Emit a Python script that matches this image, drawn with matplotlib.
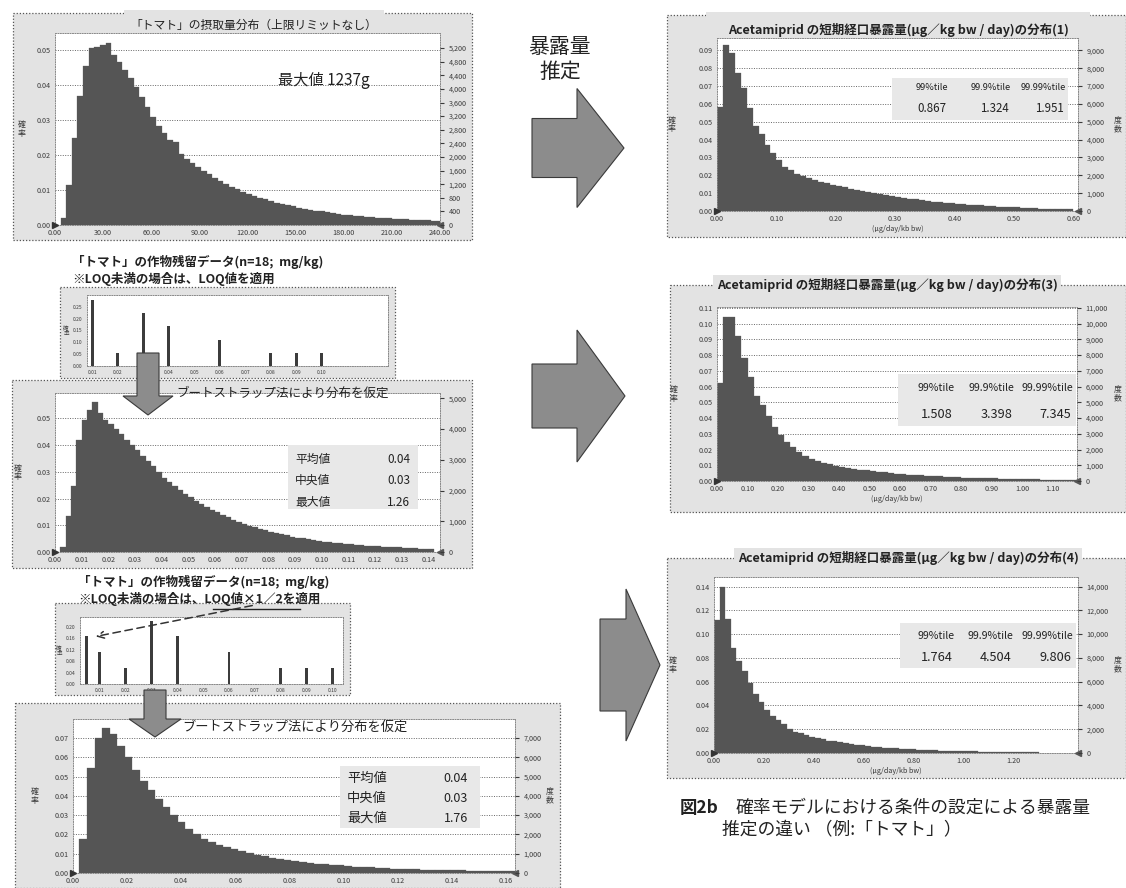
import numpy as np
import matplotlib
matplotlib.use("Agg")
import matplotlib.pyplot as plt
from matplotlib.patches import Polygon, Rectangle

plt.rcParams['font.family'] = ['Noto Sans CJK JP', 'DejaVu Sans']

# ---------------- data ----------------
# (A) tomato intake distribution (g), probability per bin
intake_start, intake_width = 3.5, 3.5
intake_prob = [0.002, 0.0114, 0.0248, 0.0369, 0.0456, 0.0505, 0.0508, 0.0515, 0.0520, 0.0486,
               0.0467, 0.0443, 0.0420, 0.0395, 0.0367, 0.0338, 0.0310, 0.0283, 0.0264, 0.0243,
               0.0238, 0.0203, 0.0190, 0.0178, 0.0166, 0.0155, 0.0145, 0.0135, 0.0126, 0.0118,
               0.0110, 0.0102, 0.0095, 0.0089, 0.0083, 0.0078, 0.0073, 0.0068, 0.0064, 0.0060,
               0.0056, 0.0053, 0.0050, 0.0047, 0.0044, 0.0041, 0.0039, 0.0036, 0.0034, 0.0032,
               0.0030, 0.0028, 0.0027, 0.0025, 0.0024, 0.0022, 0.0021, 0.0020, 0.0019, 0.0018,
               0.0017, 0.0016, 0.0015, 0.0014, 0.0014, 0.0013, 0.0012, 0.0012]
intake_xticks = [0, 30, 60, 90, 120, 150, 180, 210, 240]
intake_yticks = [0, 0.01, 0.02, 0.03, 0.04, 0.05]
intake_rticks = [0, 400, 800, 1200, 1600, 2000, 2400, 2800, 3200, 3600, 4000, 4400, 4800, 5200]

# (B) residue data, LOQ applied (n=18)
res1_conc = [0.01, 0.02, 0.03, 0.04, 0.06, 0.08, 0.09, 0.10]
res1_prob = [0.278, 0.056, 0.222, 0.167, 0.111, 0.056, 0.056, 0.056]
res1_yticks = [0.00, 0.05, 0.10, 0.15, 0.20, 0.25]

# (C) bootstrap residue distribution 1
boot1_start, boot1_width = 0.002, 0.002
boot1_prob = [0.002, 0.0134, 0.0246, 0.042, 0.0494, 0.053, 0.056, 0.052, 0.0494, 0.048,
              0.046, 0.044, 0.042, 0.040, 0.038, 0.036, 0.034, 0.032, 0.030, 0.0278,
              0.0262, 0.0247, 0.0232, 0.0218, 0.0205, 0.0192, 0.0180, 0.0169, 0.0158, 0.0148,
              0.0139, 0.0130, 0.0121, 0.0113, 0.0106, 0.0099, 0.0093, 0.0087, 0.0081, 0.0076,
              0.0071, 0.0066, 0.0062, 0.0058, 0.0054, 0.0051, 0.0048, 0.0045, 0.0042, 0.0039,
              0.0037, 0.0035, 0.0033, 0.0031, 0.0029, 0.0027, 0.0025, 0.0024, 0.0022, 0.0021,
              0.0020, 0.0019, 0.0018, 0.0017, 0.0016, 0.0015, 0.0014, 0.0013, 0.0013, 0.0012]
boot1_xticks = [0.00, 0.01, 0.02, 0.03, 0.04, 0.05, 0.06, 0.07, 0.08, 0.09, 0.10, 0.11, 0.12, 0.13, 0.14]
boot1_yticks = [0, 0.01, 0.02, 0.03, 0.04, 0.05]
boot1_rticks = [0, 1000, 2000, 3000, 4000, 5000]

# (D) residue data, LOQ x 1/2 applied (n=18)
res2_conc = [0.005, 0.01, 0.02, 0.03, 0.04, 0.06, 0.08, 0.09, 0.10]
res2_prob = [0.167, 0.111, 0.056, 0.222, 0.167, 0.111, 0.056, 0.056, 0.056]
res2_yticks = [0.00, 0.04, 0.08, 0.12, 0.16, 0.20]
res_xticks = [0.01, 0.02, 0.03, 0.04, 0.05, 0.06, 0.07, 0.08, 0.09, 0.10]

# (E) bootstrap residue distribution 2
boot2_start, boot2_width = 0.0024, 0.0028
boot2_prob = [0.0178, 0.0546, 0.070, 0.0753, 0.072, 0.066, 0.060, 0.0533, 0.0477, 0.043,
              0.0385, 0.0342, 0.0299, 0.0264, 0.023, 0.0204, 0.0178, 0.016, 0.0145, 0.0133,
              0.0122, 0.0112, 0.0103, 0.0095, 0.0087, 0.008, 0.0074, 0.0068, 0.0062, 0.0057,
              0.0053, 0.0049, 0.0045, 0.0042, 0.0039, 0.0036, 0.0033, 0.0031, 0.0029, 0.0027,
              0.0025, 0.0023, 0.0022, 0.002, 0.0019, 0.0018, 0.0017, 0.0016, 0.0015, 0.0014,
              0.0013, 0.0012, 0.0012, 0.0011, 0.001, 0.001, 0.0009, 0.0009, 0.0008, 0.0008,
              0.0007, 0.0007, 0.0007, 0.0006, 0.0006, 0.0006, 0.0005, 0.0005]
boot2_xticks = [0.00, 0.02, 0.04, 0.06, 0.08, 0.10, 0.12, 0.14, 0.16]
boot2_yticks = [0, 0.01, 0.02, 0.03, 0.04, 0.05, 0.06, 0.07]
boot2_rticks = [0, 1000, 2000, 3000, 4000, 5000, 6000, 7000]

# (F) exposure distribution (1)
exp1_start, exp1_width = 0.0, 0.01
exp1_prob = [0.0585, 0.0932, 0.0885, 0.0773, 0.0688, 0.058, 0.0476, 0.043, 0.037, 0.0323,
             0.0285, 0.0245, 0.0229, 0.021, 0.0198, 0.0186, 0.0175, 0.0165, 0.0156, 0.0148,
             0.014, 0.0132, 0.0125, 0.0118, 0.0111, 0.0105, 0.0099, 0.0093, 0.0088, 0.0083,
             0.0078, 0.0073, 0.0069, 0.0065, 0.0061, 0.0057, 0.0053, 0.005, 0.0047, 0.0044,
             0.0041, 0.0038, 0.0036, 0.0033, 0.0031, 0.0029, 0.0027, 0.0025, 0.0023, 0.0021,
             0.002, 0.0018, 0.0017, 0.0015, 0.0014, 0.0013, 0.0012, 0.0011, 0.001, 0.0009]
exp1_xticks = [0.0, 0.1, 0.2, 0.3, 0.4, 0.5, 0.6]
exp1_yticks = [0, 0.01, 0.02, 0.03, 0.04, 0.05, 0.06, 0.07, 0.08, 0.09]
exp1_rticks = [0, 1000, 2000, 3000, 4000, 5000, 6000, 7000, 8000, 9000]
exp1_pct = ["0.867", "1.324", "1.951"]

# (G) exposure distribution (3)
exp3_start, exp3_width = 0.0, 0.02
exp3_prob = [0.062, 0.104, 0.104, 0.092, 0.078, 0.066, 0.054, 0.048, 0.041, 0.034,
             0.029, 0.0247, 0.0216, 0.0184, 0.016, 0.0142, 0.0128, 0.0116, 0.0105, 0.0097,
             0.009, 0.0084, 0.0078, 0.0073, 0.0068, 0.0063, 0.0058, 0.0054, 0.005, 0.0047,
             0.0044, 0.0041, 0.0038, 0.0036, 0.0034, 0.0031, 0.0029, 0.0027, 0.0025, 0.0024,
             0.0022, 0.0021, 0.0019, 0.0018, 0.0017, 0.0016, 0.0015, 0.0014, 0.0013, 0.0012,
             0.0011, 0.0010, 0.0010, 0.0009, 0.0009, 0.0008, 0.0008, 0.0007, 0.0007]
exp3_xticks = [0.0, 0.1, 0.2, 0.3, 0.4, 0.5, 0.6, 0.7, 0.8, 0.9, 1.0, 1.1]
exp3_yticks = [0, 0.01, 0.02, 0.03, 0.04, 0.05, 0.06, 0.07, 0.08, 0.09, 0.10, 0.11]
exp3_rticks = [0, 1000, 2000, 3000, 4000, 5000, 6000, 7000, 8000, 9000, 10000, 11000]
exp3_pct = ["1.508", "3.398", "7.345"]

# (H) exposure distribution (4)
exp4_start, exp4_width = 0.0, 0.0225
exp4_prob = [0.112, 0.14, 0.113, 0.088, 0.077, 0.069, 0.059, 0.050, 0.043, 0.036,
             0.031, 0.028, 0.024, 0.020, 0.018, 0.0165, 0.015, 0.0138, 0.0126, 0.0115,
             0.0105, 0.0097, 0.009, 0.0083, 0.0076, 0.007, 0.0064, 0.0059, 0.0054, 0.005,
             0.0046, 0.0042, 0.0039, 0.0036, 0.0033, 0.003, 0.0028, 0.0026, 0.0024, 0.0022,
             0.002, 0.0019, 0.0017, 0.0016, 0.0015, 0.0014, 0.0013, 0.0012, 0.0011, 0.001,
             0.001, 0.0009, 0.0009, 0.0008, 0.0008, 0.0007, 0.0007, 0.0006]
exp4_xticks = [0.0, 0.2, 0.4, 0.6, 0.8, 1.0, 1.2]
exp4_yticks = [0, 0.02, 0.04, 0.06, 0.08, 0.10, 0.12, 0.14]
exp4_rticks = [0, 2000, 4000, 6000, 8000, 10000, 12000, 14000]
exp4_pct = ["1.764", "4.504", "9.806"]

pct_headers = ["99%tile", "99.9%tile", "99.99%tile"]
stats_labels = ["平均値", "中央値", "最大値"]
stats1_values = ["0.04", "0.03", "1.26"]
stats2_values = ["0.04", "0.03", "1.76"]

# ---------------- figure ----------------
W, H = 1126, 888
fig = plt.figure(figsize=(W / 100, H / 100), dpi=100)
fig.patch.set_facecolor('white')

FRAME_BG = '#e3e3e3'
BOX_BG = '#e8e8e8'
BAR = '#555555'
TXT = '#222222'
TICK = '#3a3a3a'


def overlay(z):
    a = fig.add_axes([0, 0, 1, 1], zorder=z)
    a.set_xlim(0, W)
    a.set_ylim(H, 0)
    a.axis('off')
    a.patch.set_alpha(0)
    return a


bg = overlay(0)
fg = overlay(10)


def frame(x0, y0, x1, y1, gap=None):
    bg.add_patch(Rectangle((x0, y0), x1 - x0, y1 - y0, facecolor=FRAME_BG,
                           edgecolor='#555555', linestyle=(0, (1, 1.5)), linewidth=0.9))
    if gap:
        bg.add_patch(Rectangle((gap[0], y0 - 3), gap[1] - gap[0], 6, facecolor=FRAME_BG,
                               edgecolor='none'))


def pax(x0, y0, x1, y1):
    return fig.add_axes([x0 / W, 1 - y1 / H, (x1 - x0) / W, (y1 - y0) / H], zorder=2)


def style_axes(ax, fs):
    ax.set_facecolor('white')
    ax.tick_params(labelsize=fs, length=0, colors=TICK, pad=3)
    for s in ax.spines.values():
        s.set_linestyle((0, (1, 1.5)))
        s.set_color('#888888')
        s.set_linewidth(0.7)


def vlabel(x, y, s, fs):
    fg.text(x, y, "\n".join(s), fontsize=fs, ha='center', va='center',
            linespacing=0.95, color=TICK)


def hist(rect, start, width, vals, xlim, ylim, xticks, yticks, rfactor, rticks,
         fs=5.2, xlabel=None, ylab_x=None, rlab_x=None):
    ax = pax(*rect)
    lefts = start + width * np.arange(len(vals))
    ax.bar(lefts, vals, width=width, align='edge', color=BAR, edgecolor=BAR,
           linewidth=0.2, zorder=2)
    ax.set_xlim(*xlim)
    ax.set_ylim(*ylim)
    ax.set_xticks(xticks)
    ax.set_xticklabels([f"{t:.2f}" for t in xticks])
    ax.set_yticks(yticks)
    ax.set_yticklabels([f"{t:.2f}" for t in yticks])
    ax.yaxis.grid(True, linestyle=(0, (1, 1.5)), color='#666666', linewidth=0.7)
    ax.set_axisbelow(True)
    style_axes(ax, fs)
    ax2 = ax.twinx()
    ax2.set_ylim(ylim[0] * rfactor, ylim[1] * rfactor)
    ax2.set_yticks(rticks)
    ax2.set_yticklabels([f"{t:,}" for t in rticks])
    ax2.tick_params(labelsize=fs, length=3, colors=TICK, pad=3)
    for s in ax2.spines.values():
        s.set_visible(False)
    ax.plot([xlim[0]], [0], marker='>', color='#333333', ms=5, clip_on=False, zorder=5)
    ax.plot([xlim[1]], [0], marker='<', color='#555555', ms=5, clip_on=False, zorder=5)
    if xlabel:
        ax.set_xlabel(xlabel, fontsize=fs, color=TICK, labelpad=1)
    ymid = (rect[1] + rect[3]) / 2
    if ylab_x is not None:
        vlabel(ylab_x, ymid, "確率", fs + 0.5)
    if rlab_x is not None:
        vlabel(rlab_x, ymid, "度数", fs + 0.5)
    return ax


def bars_small(rect, conc, prob, xlim, ylim, yticks, ylab_x):
    ax = pax(*rect)
    ax.bar(conc, prob, width=0.0011, color='#3c3c3c', zorder=2)
    ax.set_xlim(*xlim)
    ax.set_ylim(*ylim)
    ax.set_xticks(res_xticks)
    ax.set_xticklabels([f"{t:.2f}" for t in res_xticks])
    ax.set_yticks(yticks)
    ax.set_yticklabels([f"{t:.2f}" for t in yticks])
    style_axes(ax, 3.6)
    vlabel(ylab_x, (rect[1] + rect[3]) / 2, "確率", 4)
    return ax


def big_arrow(ax, x0, x1, xs, yc, shaft_h, head_h):
    pts = [(x0, yc - shaft_h / 2), (xs, yc - shaft_h / 2), (xs, yc - head_h / 2), (x1, yc),
           (xs, yc + head_h / 2), (xs, yc + shaft_h / 2), (x0, yc + shaft_h / 2)]
    ax.add_patch(Polygon(pts, closed=True, facecolor='#8c8c8c', edgecolor='#3a3a3a', linewidth=0.8))


def down_arrow(ax, xc, y0, y1, ys, shaft_w, head_w):
    pts = [(xc - shaft_w / 2, y0), (xc + shaft_w / 2, y0), (xc + shaft_w / 2, ys),
           (xc + head_w / 2, ys), (xc, y1), (xc - head_w / 2, ys), (xc - shaft_w / 2, ys)]
    ax.add_patch(Polygon(pts, closed=True, facecolor='#8c8c8c', edgecolor='#3a3a3a', linewidth=0.8))


def frame_title(x, y, s, fs, bold=False, boxed=True):
    kw = {}
    if boxed:
        kw['bbox'] = dict(boxstyle='square,pad=0.25', facecolor=FRAME_BG, edgecolor='none')
    fg.text(x, y, s, fontsize=fs, ha='center', va='center', color=TXT,
            fontweight='bold' if bold else 'normal', **kw)


# ---------- (A) intake ----------
frame(13, 13, 472, 240, gap=(124, 384))
hist((55, 33, 440, 225), intake_start, intake_width, intake_prob, (0, 240), (0, 0.0549),
     intake_xticks, intake_yticks, 102800, intake_rticks, ylab_x=22)
frame_title(254, 25, "「トマト」の摂取量分布（上限リミットなし）", 8.5, boxed=False)
fg.text(278, 80, "最大値 1237g", fontsize=11, ha='left', va='center', color=TXT)

# ---------- (B) residue 1 ----------
fg.text(72, 262, "「トマト」の作物残留データ(n=18;  mg/kg)", fontsize=9, fontweight='bold',
        ha='left', va='center', color=TXT)
fg.text(72, 279, "※LOQ未満の場合は、LOQ値を適用", fontsize=9, fontweight='bold',
        ha='left', va='center', color=TXT)
frame(60, 287, 395, 378)
bars_small((87, 295, 388, 366), res1_conc, res1_prob, (0.008, 0.126), (0, 0.30), res1_yticks, 66)

# ---------- (C) bootstrap 1 ----------
frame(12, 380, 472, 568)
hist((55, 393, 440, 552), boot1_start, boot1_width, boot1_prob, (0, 0.1443), (0, 0.0595),
     boot1_xticks, boot1_yticks, 87000, boot1_rticks, ylab_x=18)
fg.text(176, 393, "ブートストラップ法により分布を仮定", fontsize=9, ha='left', va='center', color=TXT)
fg.add_patch(Rectangle((288, 445), 130, 64, facecolor=BOX_BG, edgecolor='none', zorder=1))
for i, (lab, val) in enumerate(zip(stats_labels, stats1_values)):
    fg.text(295, 459 + 21.5 * i, lab, fontsize=8.5, ha='left', va='center', color=TXT)
    fg.text(410, 459 + 21.5 * i, val, fontsize=8.5, ha='right', va='center', color=TXT)
down_arrow(fg, 148, 353, 415, 396, 22, 50)

# ---------- (D) residue 2 ----------
fg.text(78, 582, "「トマト」の作物残留データ(n=18;  mg/kg)", fontsize=9, fontweight='bold',
        ha='left', va='center', color=TXT)
fg.text(78, 599, "※LOQ未満の場合は、LOQ値×1／2を適用", fontsize=9, fontweight='bold',
        ha='left', va='center', color=TXT)
fg.plot([213, 300], [609, 609], color=TXT, lw=1.0)
frame(55, 603, 350, 695)
bars_small((80, 617, 343, 684), res2_conc, res2_prob, (0.0025, 0.104), (0, 0.235), res2_yticks, 59)
fg.annotate('', xy=(93, 637), xytext=(255, 605),
            arrowprops=dict(arrowstyle='->', linestyle=(0, (5, 3)), color='#333333', lw=1.1,
                            mutation_scale=12))

# ---------- (E) bootstrap 2 ----------
frame(15, 703, 560, 888)
hist((73, 719, 515, 873), boot2_start, boot2_width, boot2_prob, (0, 0.1635), (0, 0.0798),
     boot2_xticks, boot2_yticks, 100000, boot2_rticks, ylab_x=35, rlab_x=550)
fg.text(182, 727, "ブートストラップ法により分布を仮定", fontsize=9.5, ha='left', va='center', color=TXT)
fg.add_patch(Rectangle((340, 766), 140, 62, facecolor=BOX_BG, edgecolor='none', zorder=1))
for i, (lab, val) in enumerate(zip(stats_labels, stats2_values)):
    fg.text(347, 778 + 20 * i, lab, fontsize=9.5, ha='left', va='center', color=TXT)
    fg.text(468, 778 + 20 * i, val, fontsize=9, ha='right', va='center', color=TXT)
down_arrow(fg, 155, 690, 737, 719, 22, 52)


# ---------- right panels ----------
def pct_box(x0, y0, x1, y1, rights, values, yh, yv, fs_h, fs_v):
    fg.add_patch(Rectangle((x0, y0), x1 - x0, y1 - y0, facecolor=BOX_BG, edgecolor='none'))
    for rx, h, v in zip(rights, pct_headers, values):
        fg.text(rx, yh, h, fontsize=fs_h, ha='right', va='center', color=TXT)
        fg.text(rx - 2, yv, v, fontsize=fs_v, ha='right', va='center', color=TXT)


XLAB = "(μg/day/kb bw)"

frame(667, 15, 1126, 237, gap=(706, 1090))
hist((717, 38, 1078, 211), exp1_start, exp1_width, exp1_prob, (0, 0.608), (0, 0.097),
     exp1_xticks, exp1_yticks, 100000, exp1_rticks, xlabel=XLAB, ylab_x=672, rlab_x=1118)
frame_title(898, 30, "Acetamiprid の短期経口暴露量(μg／kg bw / day)の分布(1)", 9, bold=True,
            boxed=False)
pct_box(892, 78, 1068, 120, [948, 1011, 1066], exp1_pct, 88, 109, 6.6, 8.3)

frame(670, 285, 1126, 512)
hist((717, 307, 1077, 481), exp3_start, exp3_width, exp3_prob, (0, 1.18), (0, 0.1105),
     exp3_xticks, exp3_yticks, 100000, exp3_rticks, xlabel=XLAB, ylab_x=674, rlab_x=1118)
frame_title(887, 285, "Acetamiprid の短期経口暴露量(μg／kg bw / day)の分布(3)", 9, bold=True)
pct_box(898, 374, 1076, 426, [955, 1014, 1073], exp3_pct, 388, 414, 7.6, 9.2)

frame(667, 558, 1126, 778)
hist((714, 577, 1078, 753), exp4_start, exp4_width, exp4_prob, (0, 1.46), (0, 0.148),
     exp4_xticks, exp4_yticks, 100000, exp4_rticks, xlabel=XLAB, ylab_x=673, rlab_x=1118)
frame_title(908, 558, "Acetamiprid の短期経口暴露量(μg／kg bw / day)の分布(4)", 9, bold=True)
pct_box(900, 623, 1076, 668, [955, 1013, 1073], exp4_pct, 636, 657, 7.6, 9.2)

# ---------- big arrows ----------
fg.text(560, 47, "暴露量", fontsize=15, ha='center', va='center', color=TXT)
fg.text(560, 72, "推定", fontsize=15, ha='center', va='center', color=TXT)
big_arrow(fg, 532, 624, 577, 148, 59, 119)
big_arrow(fg, 532, 625, 577, 396, 64, 132)
big_arrow(fg, 600, 660, 626, 665, 92, 152)

# ---------- caption ----------
fg.text(680, 808, "図2b", fontsize=12.5, fontweight='bold', ha='left', va='center', color=TXT)
fg.text(736, 808, "確率モデルにおける条件の設定による暴露量", fontsize=12.8, ha='left', va='center', color=TXT)
fg.text(722, 830, "推定の違い （例:「トマト」）", fontsize=12.8, ha='left', va='center', color=TXT)

fig.savefig("out.png", dpi=100, facecolor='white')
